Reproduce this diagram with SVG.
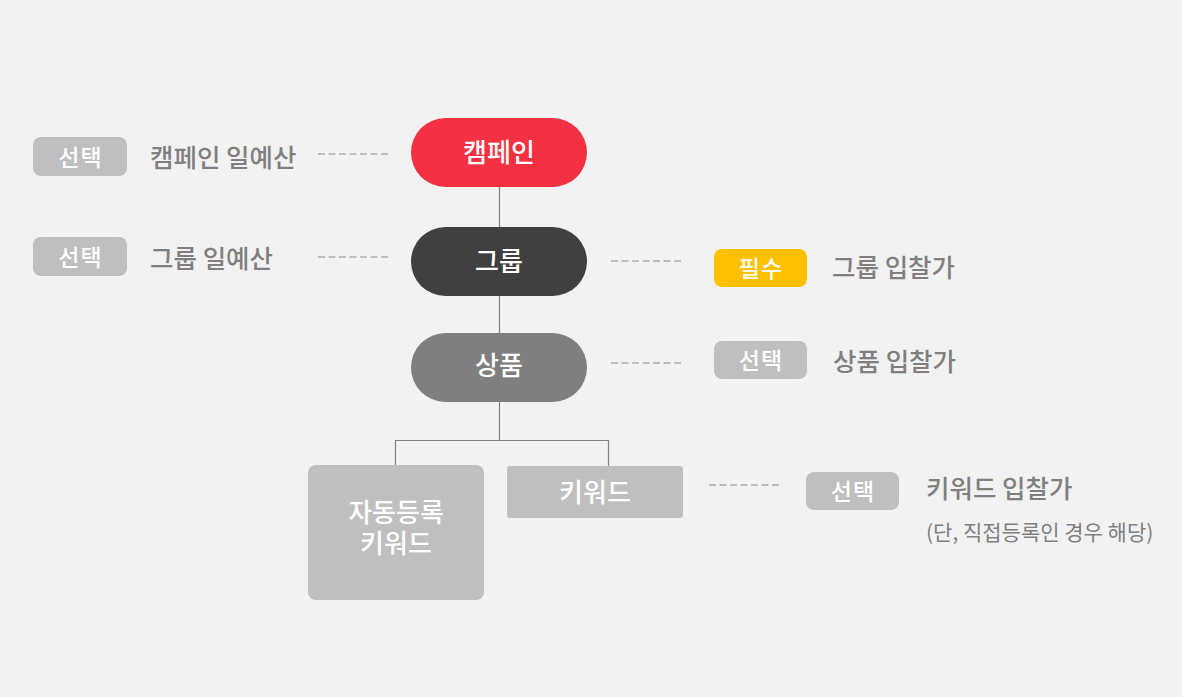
<svg xmlns="http://www.w3.org/2000/svg" width="1182" height="697" viewBox="0 0 1182 697">
<style>
text{font-family:"Noto Sans CJK KR","Noto Sans",sans-serif;}
.badge{fill:#bfbfbf;}
.req{fill:#ffc000;}
.bt{fill:#ffffff;font-size:23px;font-weight:500;text-anchor:middle;letter-spacing:1px;}
.lbl{fill:#7f7f7f;font-size:25.5px;font-weight:500;}
.note{fill:#7f7f7f;font-size:21px;font-weight:400;}
.nt{fill:#ffffff;font-size:26px;font-weight:500;text-anchor:middle;}
.dash{stroke:#bfbfbf;stroke-width:2;stroke-dasharray:7 3.5;fill:none;}
.conn{stroke:#7f7f7f;stroke-width:1.2;fill:none;}
</style>
<rect width="1182" height="697" fill="#f2f2f2"/>
<g id="connectors">
<path class="conn" d="M499.5 187 V227 M499.5 296 V333 M499.5 402 V440.5 M395.5 465 V440.5 H608.5 V466"/>
<path class="dash" d="M318 154 H390 M318 257 H390 M611 261 H683 M611 363 H683 M709 485 H781"/>
</g>
<g id="node-campaign">
<rect x="411" y="118" width="176" height="69" rx="34.5" fill="#f43143"/>
<text class="nt" x="499" y="161.5">캠페인</text>
</g>
<g id="node-group">
<rect x="411" y="227" width="176" height="69" rx="34.5" fill="#404040"/>
<text class="nt" x="499" y="271">그룹</text>
</g>
<g id="node-product">
<rect x="411" y="333" width="176" height="69" rx="34.5" fill="#7f7f7f"/>
<text class="nt" x="499" y="374.5">상품</text>
</g>
<g id="node-auto-keyword">
<rect x="308" y="465" width="176" height="135" rx="8" fill="#bfbfbf"/>
<text class="nt" x="396" y="521.5">자동등록<tspan x="396" y="552.5">키워드</tspan></text>
</g>
<g id="node-keyword">
<rect x="507" y="466" width="176" height="52" rx="3" fill="#bfbfbf"/>
<text class="nt" x="595" y="501.5">키워드</text>
</g>
<g id="info-campaign-budget">
<rect class="badge" x="33" y="137" width="94" height="39" rx="8"/>
<text class="bt" x="80.5" y="165.5">선택</text>
<text class="lbl" x="150" y="166.5">캠페인 일예산</text>
</g>
<g id="info-group-budget">
<rect class="badge" x="33" y="237" width="94" height="39" rx="8"/>
<text class="bt" x="80.5" y="265.5">선택</text>
<text class="lbl" x="150" y="267.5">그룹 일예산</text>
</g>
<g id="info-group-bid">
<rect class="req" x="714" y="249" width="93" height="38" rx="8"/>
<text class="bt" x="761" y="276.5">필수</text>
<text class="lbl" x="832" y="276.5">그룹 입찰가</text>
</g>
<g id="info-product-bid">
<rect class="badge" x="714" y="341" width="93" height="38" rx="8"/>
<text class="bt" x="761" y="368.5">선택</text>
<text class="lbl" x="833" y="370.5">상품 입찰가</text>
</g>
<g id="info-keyword-bid">
<rect class="badge" x="806" y="472" width="93" height="38" rx="8"/>
<text class="bt" x="853" y="499.5">선택</text>
<text class="lbl" x="926" y="497.5">키워드 입찰가</text>
<text class="note" x="926" y="539.5">(단, 직접등록인 경우 해당)</text>
</g>
</svg>
